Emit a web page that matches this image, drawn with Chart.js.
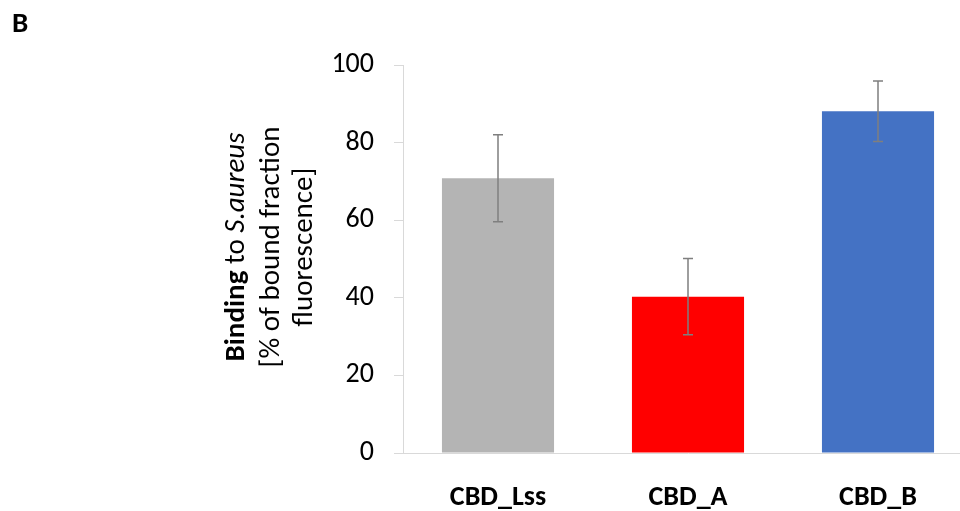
<!DOCTYPE html>
<html>
<head>
<meta charset="utf-8">
<script src="https://cdn.jsdelivr.net/npm/chart.js@4.4.0/dist/chart.umd.min.js"></script>
<style>
    html, body { margin: 0; padding: 0; background: #fff; overflow: hidden; }
    #wrap { position: relative; width: 973px; height: 511px; }
</style>
</head>
<body>
<div id="wrap"><canvas id="bindingChart"></canvas></div>
<script>
// дані з рисунка
const categories = ['CBD_Lss', 'CBD_A', 'CBD_B'];
const bindingValues = [70.8, 40.3, 88.1];
const bindingErrors = [11.2, 9.8, 7.8];
const barColors = ['#b4b4b4', '#ff0000', '#4472c4'];
const yTicks = [0, 20, 40, 60, 80, 100];

const FONT = 'Carlito, Calibri, Lato, sans-serif';

// планки похибок
const errorBarsPlugin = {
    id: 'errorBars',
    afterDatasetsDraw(chart) {
        const ctx = chart.ctx;
        const yScale = chart.scales.y;
        const meta = chart.getDatasetMeta(0);
        ctx.save();
        ctx.strokeStyle = '#7f7f7f';
        ctx.lineWidth = 1.5;
        meta.data.forEach((bar, i) => {
            const v = bindingValues[i];
            const e = bindingErrors[i];
            const yTop = yScale.getPixelForValue(v + e);
            const yBot = yScale.getPixelForValue(v - e);
            const x = bar.x;
            ctx.beginPath();
            ctx.moveTo(x, yTop);
            ctx.lineTo(x, yBot);
            ctx.moveTo(x - 5, yTop);
            ctx.lineTo(x + 5, yTop);
            ctx.moveTo(x - 5, yBot);
            ctx.lineTo(x + 5, yBot);
            ctx.stroke();
        });
        ctx.restore();
    }
};

// підпис осі Y зі змішаним шрифтом + літера панелі
const axisTitlePlugin = {
    id: 'axisTitle',
    afterDraw(chart) {
        const ctx = chart.ctx;
        const cy = 247;
        ctx.save();
        ctx.fillStyle = '#000';
        ctx.textBaseline = 'alphabetic';

        ctx.font = 'bold 29px ' + FONT;
        ctx.textAlign = 'left';
        ctx.fillText('B', 12, 32);

        ctx.translate(0, cy);
        ctx.rotate(-Math.PI / 2);

        const parts = [
            { text: 'Binding', font: 'bold 29px ' + FONT },
            { text: ' to ', font: '29px ' + FONT },
            { text: 'S.aureus', font: 'italic 29px ' + FONT }
        ];
        let total = 0;
        parts.forEach(p => { ctx.font = p.font; p.w = ctx.measureText(p.text).width; total += p.w; });
        let x = -total / 2;
        ctx.textAlign = 'left';
        parts.forEach(p => { ctx.font = p.font; ctx.fillText(p.text, x, 244); x += p.w; });

        ctx.font = '29px ' + FONT;
        ctx.textAlign = 'center';
        ctx.fillText('[% of bound fraction', 0, 279);
        ctx.fillText('fluorescence]', 0, 312);
        ctx.restore();
    }
};

const ctx = document.getElementById('bindingChart').getContext('2d');

new Chart(ctx, {
    type: 'bar',
    data: {
        labels: categories,
        datasets: [{
            data: bindingValues,
            backgroundColor: barColors,
            borderWidth: 0,
            categoryPercentage: 1.0,
            barPercentage: 0.59
        }]
    },
    options: {
        responsive: true,
        maintainAspectRatio: false,
        animation: false,
        layout: { padding: { top: 65, right: 0, bottom: 0, left: 0 } },
        plugins: {
            legend: { display: false },
            tooltip: { enabled: false }
        },
        scales: {
            x: {
                grid: { display: false },
                border: { display: true, color: '#d9d9d9', width: 1 },
                ticks: {
                    color: '#000',
                    padding: 20,
                    font: { family: FONT, size: 28, weight: 'bold' }
                },
                afterFit(scale) { scale.height = 58; }
            },
            y: {
                min: 0,
                max: 100,
                afterBuildTicks(scale) { scale.ticks = yTicks.map(v => ({ value: v })); },
                grid: {
                    drawOnChartArea: false,
                    drawTicks: true,
                    tickLength: 9,
                    color: '#d9d9d9'
                },
                border: { display: true, color: '#d9d9d9', width: 1 },
                ticks: {
                    color: '#000',
                    padding: 20,
                    font: { family: FONT, size: 28 }
                },
                afterFit(scale) { scale.width = 403; }
            }
        }
    },
    plugins: [errorBarsPlugin, axisTitlePlugin]
});
</script>
</body>
</html>
